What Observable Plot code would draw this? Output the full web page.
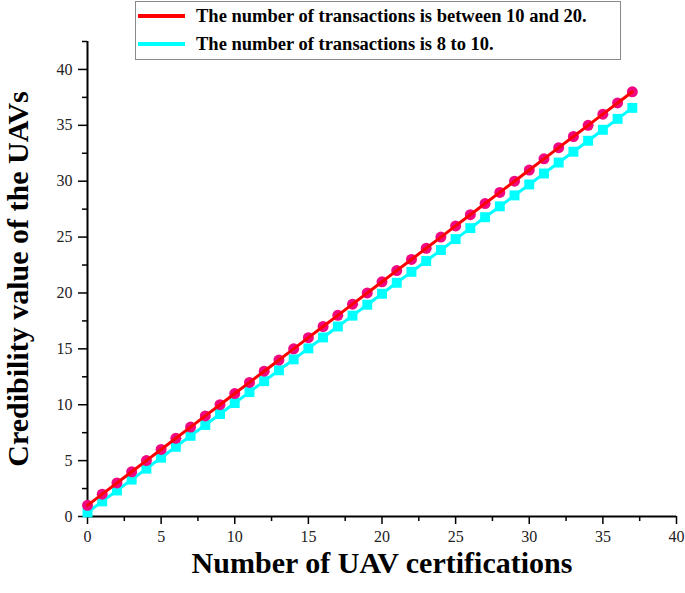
<!DOCTYPE html>
<html>
<head>
<meta charset="utf-8">
<script src="https://cdn.jsdelivr.net/npm/d3@7"></script>
<script src="https://cdn.jsdelivr.net/npm/@observablehq/plot@0.6"></script>
<style>
  body { margin: 0; background: #fff; }
  #wrap { position: relative; width: 685px; height: 593px; }
  #legend {
    position: absolute; left: 135px; top: 1px; width: 484px; height: 57px;
    border: 1px solid #8a8a8a; background: #fff;
    font-family: "Liberation Serif", "Times New Roman", serif; font-weight: bold; font-size: 18.5px; color: #000;
  }
  .row { position: absolute; left: 0; height: 28px; display: flex; align-items: center; }
  .sw { width: 47px; height: 4px; margin-left: 2px; margin-right: 11px; }
</style>
</head>
<body>
<div id="wrap">
  <div id="chart"></div>
  <div id="legend"></div>
</div>
<script>
// Data
const certifications = [0,1,2,3,4,5,6,7,8,9,10,11,12,13,14,15,16,17,18,19,20,21,22,23,24,25,26,27,28,29,30,31,32,33,34,35,36,37];
const credibility10to20 = [1,2,3,4,5,6,7,8,9,10,11,12,13,14,15,16,17,18,19,20,21,22,23,24,25,26,27,28,29,30,31,32,33,34,35,36,37,38];
const credibility8to10 = [0.37,1.35,2.33,3.30,4.28,5.26,6.24,7.22,8.19,9.17,10.15,11.13,12.11,13.08,14.06,15.04,16.02,17.00,17.97,18.95,19.93,20.91,21.89,22.86,23.84,24.82,25.80,26.78,27.75,28.73,29.71,30.69,31.67,32.64,33.62,34.60,35.58,36.56];
const seriesNames = ["The number of transactions is between 10 and 20.", "The number of transactions is 8 to 10."];
const xMajorTicks = [0,5,10,15,20,25,30,35,40];
const xMinorTicks = [2.5,7.5,12.5,17.5,22.5,27.5,32.5,37.5];
const yMajorTicks = [0,5,10,15,20,25,30,35,40];
const yMinorTicks = [2.5,7.5,12.5,17.5,22.5,27.5,32.5,37.5,42.5];
const xTitle = "Number of UAV certifications";
const yTitle = "Credibility value of the UAVs";

const lineColors = ["#ff0000", "#00ffff"];
const markerColors = ["#ef0680", "#00ffff"];

const redData = certifications.map((x, i) => ({x, y: credibility10to20[i]}));
const cyanData = certifications.map((x, i) => ({x, y: credibility8to10[i]}));

const tickFont = {fontFamily: "'Liberation Serif', serif", fontSize: 16};
const titleFont = {fontSize: 30, fontWeight: "bold", fill: "#000", fontFamily: "'Liberation Serif', serif"};

const chart = Plot.plot({
  width: 685,
  height: 593,
  marginLeft: 87,
  marginRight: 9,
  marginTop: 41,
  marginBottom: 77,
  style: {fontFamily: "'Liberation Serif', serif", background: "#fff", color: "#000"},
  x: {domain: [0, 40]},
  y: {domain: [0, 42.5]},
  marks: [
    Plot.axisX({ticks: xMajorTicks, tickSize: 8, tickPadding: 6, label: null, stroke: "#000", strokeWidth: 1.5, fill: "#222", ...tickFont}),
    Plot.axisX({ticks: xMinorTicks, tickSize: 5, text: null, label: null, stroke: "#000", strokeWidth: 1.5}),
    Plot.axisY({ticks: yMajorTicks, tickSize: 9, tickPadding: 6, label: null, stroke: "#000", strokeWidth: 1.5, fill: "#222", ...tickFont}),
    Plot.axisY({ticks: yMinorTicks, tickSize: 5, text: null, label: null, stroke: "#000", strokeWidth: 1.5}),
    Plot.ruleY([0], {stroke: "#000", strokeWidth: 2}),
    Plot.ruleX([0], {stroke: "#000", strokeWidth: 2}),
    Plot.line(cyanData, {x: "x", y: "y", stroke: lineColors[1], strokeWidth: 3}),
    Plot.dot(cyanData, {x: "x", y: "y", symbol: "square", r: 5.6, fill: markerColors[1], stroke: "none"}),
    Plot.dot(redData, {x: "x", y: "y", symbol: "circle", r: 5.5, fill: markerColors[0], stroke: "none"}),
    Plot.line(redData, {x: "x", y: "y", stroke: lineColors[0], strokeWidth: 3}),
    Plot.text([xTitle], {frameAnchor: "bottom", dy: 56, textAnchor: "middle", ...titleFont}),
    Plot.text([yTitle], {frameAnchor: "left", dx: -69, rotate: -90, textAnchor: "middle", ...titleFont})
  ]
});
document.getElementById("chart").appendChild(chart);

const legend = document.getElementById("legend");
seriesNames.forEach((name, i) => {
  const row = document.createElement("div");
  row.className = "row";
  row.style.top = (i === 0 ? 0 : 28) + "px";
  const sw = document.createElement("div");
  sw.className = "sw";
  sw.style.background = lineColors[i];
  const t = document.createElement("span");
  t.textContent = name;
  row.appendChild(sw);
  row.appendChild(t);
  legend.appendChild(row);
});
</script>
</body>
</html>
